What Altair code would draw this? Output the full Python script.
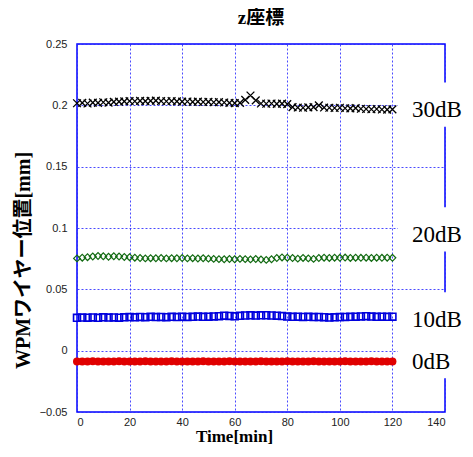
import altair as alt
import pandas as pd

# ---------------- data ----------------
times = list(range(0, 121, 2))

db30 = [0.2017, 0.2020, 0.2015, 0.2022, 0.2020, 0.2025, 0.2022, 0.2028, 0.2030, 0.2032,
        0.2035, 0.2033, 0.2036, 0.2034, 0.2036, 0.2038, 0.2035, 0.2033, 0.2035, 0.2032,
        0.2030, 0.2031, 0.2028, 0.2030, 0.2027, 0.2028, 0.2025, 0.2026, 0.2023, 0.2020,
        0.2018, 0.2020, 0.2045, 0.2080, 0.2040, 0.2015, 0.2013, 0.2015, 0.2012, 0.2014,
        0.2010, 0.1985, 0.1982, 0.1980, 0.1983, 0.1985, 0.2000, 0.1982, 0.1980, 0.1978,
        0.1980, 0.1976, 0.1975, 0.1977, 0.1972, 0.1970, 0.1968, 0.1970, 0.1966, 0.1965,
        0.1967]

db20 = [0.0752, 0.0758, 0.0762, 0.0768, 0.0772, 0.0770, 0.0766, 0.0770, 0.0768, 0.0764,
        0.0762, 0.0758, 0.0755, 0.0752, 0.0754, 0.0753, 0.0755, 0.0752, 0.0754, 0.0753,
        0.0755, 0.0752, 0.0754, 0.0751, 0.0753, 0.0750, 0.0748, 0.0746, 0.0745, 0.0747,
        0.0745, 0.0748, 0.0746, 0.0744, 0.0747, 0.0743, 0.0740, 0.0745, 0.0755, 0.0760,
        0.0758, 0.0755, 0.0750, 0.0756, 0.0752, 0.0748, 0.0755, 0.0758, 0.0756, 0.0758,
        0.0757, 0.0759, 0.0756, 0.0758, 0.0757, 0.0758, 0.0756, 0.0758, 0.0757, 0.0758,
        0.0757]

db10 = [0.0268, 0.0270, 0.0269, 0.0271, 0.0268, 0.0272, 0.0270, 0.0271, 0.0269, 0.0272,
        0.0274, 0.0272, 0.0275, 0.0273, 0.0276, 0.0274, 0.0275, 0.0273, 0.0276, 0.0274,
        0.0277, 0.0275, 0.0276, 0.0278, 0.0276, 0.0277, 0.0279, 0.0281, 0.0285, 0.0283,
        0.0280, 0.0284, 0.0287, 0.0288, 0.0286, 0.0288, 0.0289, 0.0287, 0.0285, 0.0282,
        0.0278, 0.0276, 0.0277, 0.0275, 0.0276, 0.0274, 0.0275, 0.0273, 0.0270, 0.0272,
        0.0274, 0.0275, 0.0276, 0.0277, 0.0279, 0.0281, 0.0278, 0.0276, 0.0277, 0.0276,
        0.0277]

db0 = [-0.0088, -0.0089, -0.0088, -0.0087, -0.0088, -0.0089, -0.0088, -0.0088, -0.0087, -0.0088,
       -0.0089, -0.0088, -0.0088, -0.0087, -0.0088, -0.0088, -0.0089, -0.0088, -0.0087, -0.0088,
       -0.0088, -0.0089, -0.0088, -0.0088, -0.0087, -0.0088, -0.0088, -0.0089, -0.0088, -0.0087,
       -0.0088, -0.0088, -0.0089, -0.0088, -0.0088, -0.0087, -0.0088, -0.0089, -0.0088, -0.0088,
       -0.0087, -0.0088, -0.0088, -0.0089, -0.0088, -0.0087, -0.0088, -0.0088, -0.0089, -0.0088,
       -0.0088, -0.0087, -0.0088, -0.0088, -0.0089, -0.0088, -0.0087, -0.0088, -0.0088, -0.0089,
       -0.0088]

label_texts = ["30dB", "20dB", "10dB", "0dB"]
label_y = [0.196, 0.0943, 0.025, -0.009]

x_ticks = [0, 20, 40, 60, 80, 100, 120, 140]
y_ticks = [-0.05, 0, 0.05, 0.1, 0.15, 0.2, 0.25]

title_text = "z座標"
x_title = "Time[min]"
y_title = "WPMワイヤー位置[mm]"

# ---------------- tables ----------------
rows = []
for name, vals in [("30dB", db30), ("20dB", db20), ("10dB", db10), ("0dB", db0)]:
    for t, v in zip(times, vals):
        rows.append({"series": name, "t": t, "v": v})
df = pd.DataFrame(rows)

labels = pd.DataFrame({"label": label_texts, "v": label_y})
labels["v_top"] = labels["v"] + 0.0226
labels["v_bot"] = labels["v"] - 0.0134

serif = "Liberation Serif, Noto Sans CJK JP"
xscale = alt.Scale(domain=[0, 140], nice=False, zero=False)
yscale = alt.Scale(domain=[-0.05, 0.25], nice=False, zero=False)

grid_kw = dict(grid=True, gridColor="#2a2aff", gridOpacity=0.85, gridDash=[2, 2],
               gridWidth=1, ticks=False, domain=False,
               labelFont="Liberation Sans", labelFontSize=11, labelColor="#222222",
               titleFont=serif, titleFontWeight="bold", titleColor="black")

xaxis = alt.Axis(values=x_ticks, format="d", labelPadding=4, title=x_title,
                 titleFontSize=17, titleX=157, titleY=24,
                 titleBaseline="middle", titleAlign="center", **grid_kw)
yaxis = alt.Axis(values=y_ticks, format="~f", labelPadding=10, title=y_title,
                 titleFontSize=20, titleX=-54, titleY=216, titleAngle=270,
                 titleBaseline="middle", titleAlign="center", **grid_kw)

base = alt.Chart(df).encode(
    x=alt.X("t:Q", scale=xscale, axis=xaxis),
    y=alt.Y("v:Q", scale=yscale, axis=yaxis),
)

red = base.transform_filter(alt.datum.series == "0dB").mark_point(
    shape="circle", filled=True, size=64, color="#e00000", opacity=1)
blue = base.transform_filter(alt.datum.series == "10dB").mark_point(
    shape="square", filled=False, size=48, strokeWidth=1.6, color="#0000dd", opacity=1)
green = base.transform_filter(alt.datum.series == "20dB").mark_point(
    shape="diamond", filled=False, size=45, strokeWidth=1.2, color="#126a12", opacity=1)
black = base.transform_filter(alt.datum.series == "30dB").mark_point(
    shape="M-1,-1L1,1M-1,1L1,-1", filled=False, size=60, strokeWidth=1.3, color="black", opacity=1)

boxes = alt.Chart(labels).mark_rect(fill="white").encode(
    x=alt.XDatum(122.1, scale=xscale, axis=xaxis),
    x2=alt.value(420),
    y=alt.Y("v_top:Q", scale=yscale, axis=yaxis),
    y2="v_bot:Q",
)

texts = alt.Chart(labels).mark_text(
    align="left", baseline="middle", font="Liberation Serif", fontSize=23, color="black"
).encode(
    x=alt.XDatum(127.4, scale=xscale, axis=xaxis),
    y=alt.Y("v:Q", scale=yscale, axis=yaxis),
    text="label:N",
)

chart = alt.layer(red, blue, green, black, boxes, texts).properties(
    width=368, height=368,
    title=alt.TitleParams(title_text, font=serif, fontSize=19, fontWeight="bold",
                          color="black", anchor="middle", offset=10),
    autosize=alt.AutoSizeParams(type="none"),
    padding={"left": 69, "top": 36, "right": 20, "bottom": 32},
    background="white",
).configure_view(stroke="#0000ff", strokeWidth=1.5)

chart.save("out.html", embed_options={"renderer": "svg", "actions": False})
